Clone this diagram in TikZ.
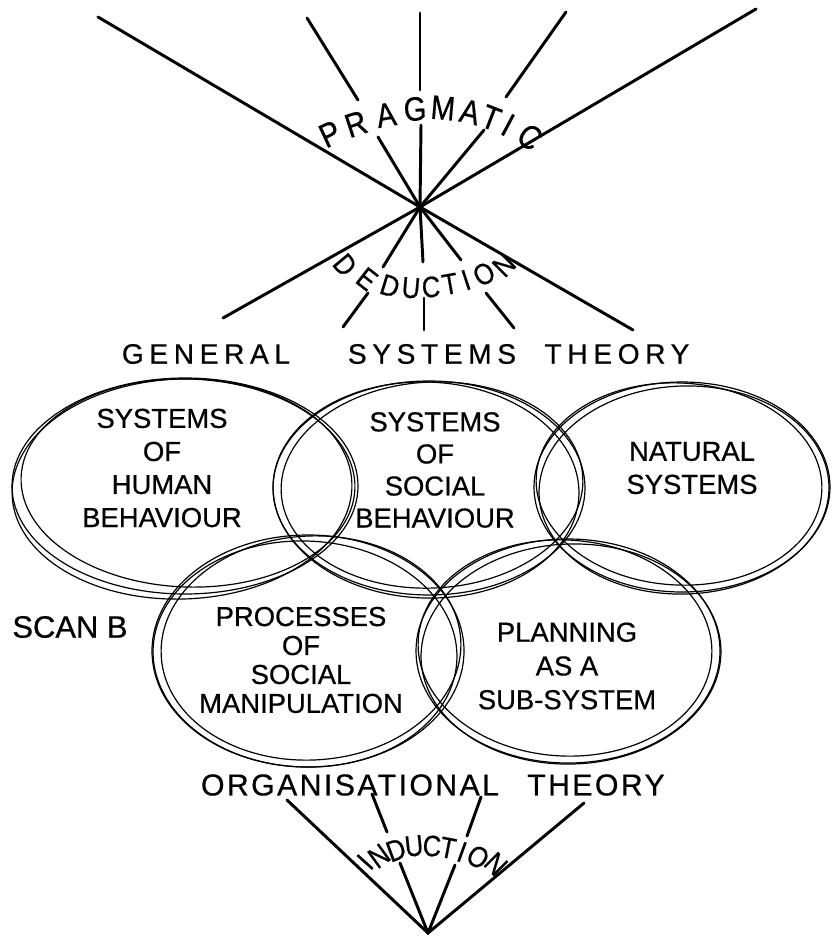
\documentclass[tikz,border=0pt]{standalone}
\usepackage{fontspec}
\setmainfont{Liberation Sans}
\newfontfamily\handfont[FakeBold=0.6]{Liberation Sans}
\newfontfamily\arcfont[FakeStretch=0.86, FakeBold=0.6]{Liberation Sans}
\newfontfamily\headfont[LetterSpace=20, FakeBold=0.6]{Liberation Sans}
\newfontfamily\orgfont[LetterSpace=8, FakeBold=0.6]{Liberation Sans}
\usepackage{tikz}
\usetikzlibrary{calc}

\begin{document}
\begin{tikzpicture}[x=0.025cm, y=0.025cm,
    stroke/.style={line width=2.1pt, line cap=round},
    ring/.style={line width=0.85pt},
    bigletter/.style={inner sep=0pt, font=\arcfont\fontsize{24}{28}\selectfont},
    arcletter/.style={inner sep=0pt, font=\arcfont\fontsize{21}{25}\selectfont},
    heading/.style={inner sep=0pt, font=\headfont\fontsize{20}{24}\selectfont},
    orgtext/.style={inner sep=0pt, font=\orgfont\fontsize{21.5}{25}\selectfont},
    ringtext/.style={inner sep=0pt, align=center, font=\handfont\fontsize{19.5}{23.5}\selectfont}]
  \useasboundingbox (0,0) rectangle (833,-940);

  % upper star
  \coordinate (star) at (420,-207);
  \coordinate (nw) at (98,-17);    \coordinate (se) at (633,-330);
  \coordinate (ne) at (756,-9);    \coordinate (sw) at (223,-318);
  \coordinate (ua1) at (307,-18);  \coordinate (ua2) at (358,-100); \coordinate (ua3) at (378,-137);
  \coordinate (ub1) at (420,-13);  \coordinate (ub2) at (420,-90);  \coordinate (ub3) at (421,-125);
  \coordinate (uc1) at (566,-12);  \coordinate (uc2) at (506,-97);  \coordinate (uc3) at (484,-130);
  \coordinate (la1) at (383,-267); \coordinate (la2) at (368,-293); \coordinate (la3) at (343,-327);
  \coordinate (lb1) at (423,-262); \coordinate (lb2) at (424,-298); \coordinate (lb3) at (424,-330);
  \coordinate (lc1) at (461,-260); \coordinate (lc2) at (486,-293); \coordinate (lc3) at (514,-328);
  \draw[stroke] (nw) -- (star) -- (se);
  \draw[stroke] (ne) -- (star) -- (sw);
  \draw[stroke] (ua1) -- (ua2); \draw[stroke] (ua3) -- (star);
  \draw[stroke] (ub1) -- (ub2); \draw[stroke] (ub3) -- (star);
  \draw[stroke] (uc1) -- (uc2); \draw[stroke] (uc3) -- (star);
  \draw[stroke] (star) -- (la1); \draw[stroke] (la2) -- (la3);
  \draw[stroke] (star) -- (lb1); \draw[stroke] (lb2) -- (lb3);
  \draw[stroke] (star) -- (lc1); \draw[stroke] (lc2) -- (lc3);

  \node[bigletter, rotate=25] (p1) at (330,-134) {P};  \node[bigletter, rotate=18] (p2) at (356,-124) {R};
  \node[bigletter, rotate=10] (p3) at (386,-115) {A};  \node[bigletter, rotate=3] (p4) at (415,-109) {G};
  \node[bigletter, rotate=-5] (p5) at (443,-108) {M};  \node[bigletter, rotate=-13] (p6) at (470,-112) {A};
  \node[bigletter, rotate=-21] (p7) at (491,-118) {T}; \node[bigletter, rotate=-28] (p8) at (508,-125) {I};
  \node[bigletter, rotate=-38] (p9) at (530,-137) {C};

  \node[arcletter, rotate=-50] (d1) at (345,-265) {D}; \node[arcletter, rotate=-38] (d2) at (367,-279) {E};
  \node[arcletter, rotate=-17] (d3) at (390,-286) {D}; \node[arcletter, rotate=-5] (d4) at (411,-288) {U};
  \node[arcletter, rotate=3] (d5) at (431,-287) {C};   \node[arcletter, rotate=10] (d6) at (450,-284) {T};
  \node[arcletter, rotate=18] (d7) at (466,-280) {I};  \node[arcletter, rotate=30] (d8) at (484,-274) {O};
  \node[arcletter, rotate=45] (d9) at (504,-265) {N};

  \node[heading] (general) at (206,-354) {GENERAL};
  \node[heading] (systems) at (432,-354) {SYSTEMS};
  \node[heading] (theory) at (617,-354) {THEORY};

  % rings
  \draw[ring] (185,-486) ellipse [x radius=173, y radius=108];
  \draw[ring] (188,-483) ellipse [x radius=167, y radius=104, rotate=-2];
  \draw[ring] (182,-489) ellipse [x radius=170, y radius=110, rotate=2];
  \draw[ring] (429,-488) ellipse [x radius=156, y radius=107];
  \draw[ring] (432,-485) ellipse [x radius=151, y radius=103, rotate=3];
  \draw[ring] (426,-490) ellipse [x radius=153, y radius=108, rotate=-2];
  \draw[ring] (682,-487) ellipse [x radius=148, y radius=105];
  \draw[ring] (679,-484) ellipse [x radius=143, y radius=101, rotate=-3];
  \draw[ring] (684,-490) ellipse [x radius=145, y radius=104, rotate=2];
  \draw[ring] (308,-651) ellipse [x radius=156, y radius=116];
  \draw[ring] (311,-648) ellipse [x radius=150, y radius=112, rotate=3];
  \draw[ring] (305,-654) ellipse [x radius=152, y radius=113, rotate=-2];
  \draw[ring] (568,-651) ellipse [x radius=152, y radius=112];
  \draw[ring] (565,-648) ellipse [x radius=147, y radius=108, rotate=-3];
  \draw[ring] (571,-654) ellipse [x radius=150, y radius=110, rotate=2];

  \node[ringtext] (human) at (162,-468) {SYSTEMS\\OF\\HUMAN\\BEHAVIOUR};
  \node[ringtext, font=\handfont\fontsize{19.5}{22.8}\selectfont] (social) at (435,-470) {SYSTEMS\\OF\\SOCIAL\\BEHAVIOUR};
  \node[ringtext] (natural) at (692,-468) {NATURAL\\SYSTEMS};
  \node[ringtext, font=\handfont\fontsize{19.5}{20.6}\selectfont] (manip) at (301,-660) {PROCESSES\\OF\\SOCIAL\\MANIPULATION};
  \node[ringtext, font=\handfont\fontsize{19.5}{24}\selectfont] (planning) at (567,-666) {PLANNING\\AS A\\SUB-SYSTEM};
  \node[inner sep=0pt, font=\handfont\fontsize{22}{26}\selectfont] (scanb) at (70,-627) {SCAN B};

  \node[orgtext] (organis) at (350,-785) {ORGANISATIONAL};
  \node[orgtext] (orgtheory) at (596,-785) {THEORY};

  % lower fan
  \coordinate (vertex) at (428,-933);
  \coordinate (fl) at (287,-800);  \coordinate (fr) at (584,-803);
  \coordinate (fa1) at (372,-794); \coordinate (fa2) at (387,-832); \coordinate (fa3) at (400,-863);
  \coordinate (fb1) at (481,-797); \coordinate (fb2) at (467,-836); \coordinate (fb3) at (455,-865);
  \draw[stroke] (fl) -- (vertex) -- (fr);
  \draw[stroke] (fa1) -- (fa2); \draw[stroke] (fa3) -- (vertex);
  \draw[stroke] (fb1) -- (fb2); \draw[stroke] (fb3) -- (vertex);

  \node[arcletter, rotate=48] (i1) at (365,-862) {I};  \node[arcletter, rotate=36] (i2) at (379,-856) {N};
  \node[arcletter, rotate=20] (i3) at (396,-850) {D};  \node[arcletter, rotate=6] (i4) at (414,-846) {U};
  \node[arcletter, rotate=-3] (i5) at (432,-846) {C};  \node[arcletter, rotate=-11] (i6) at (448,-848) {T};
  \node[arcletter, rotate=-20] (i7) at (462,-852) {I}; \node[arcletter, rotate=-32] (i8) at (478,-857) {O};
  \node[arcletter, rotate=-45] (i9) at (496,-864) {N};
\end{tikzpicture}
\end{document}
